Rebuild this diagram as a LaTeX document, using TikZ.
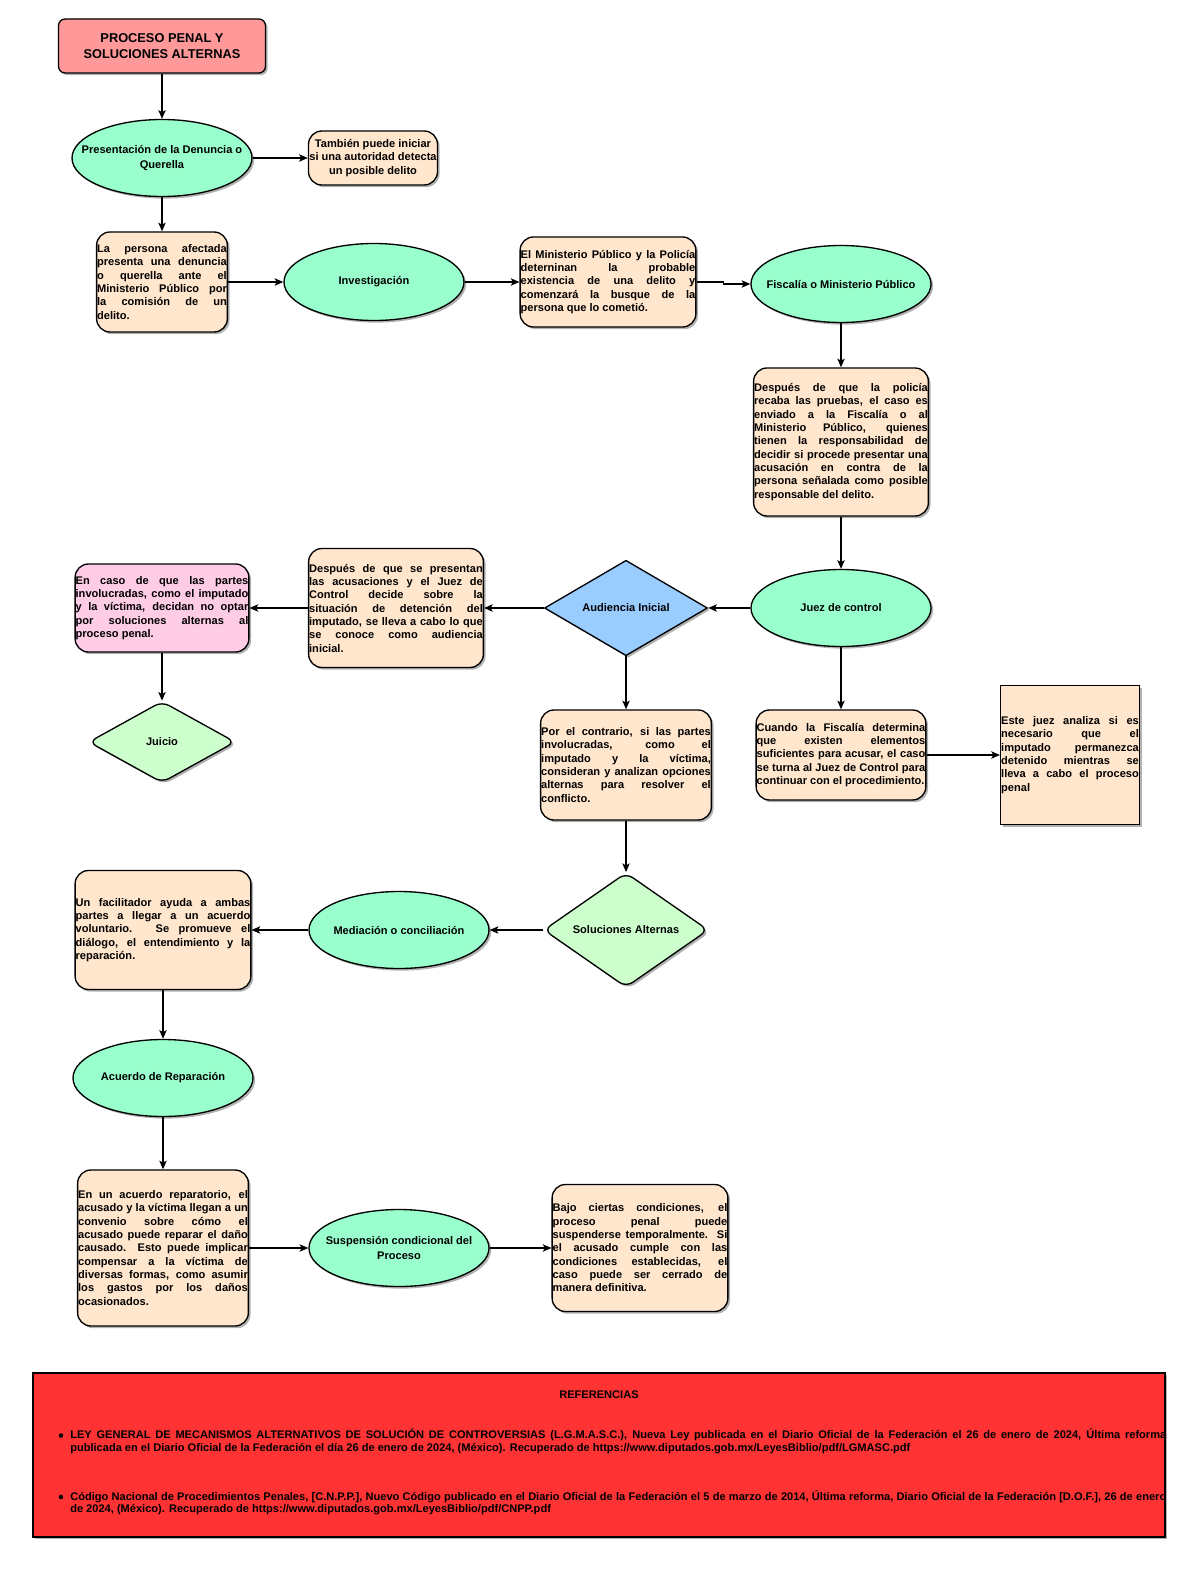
\documentclass[tikz,border=0pt]{standalone}
\usepackage{fontspec}
\setmainfont{Liberation Sans}
\usetikzlibrary{shapes.geometric,arrows.meta,shadows}
\definecolor{peach}{HTML}{FFE6CC}
\definecolor{mint}{HTML}{99FFCC}
\definecolor{titlepink}{HTML}{FF9999}
\definecolor{pinkbox}{HTML}{FFCCE6}
\definecolor{bluedia}{HTML}{99CCFF}
\definecolor{greendia}{HTML}{CCFFCC}
\definecolor{refred}{HTML}{FF3333}
\hyphenpenalty=10000
\exhyphenpenalty=10000
\tolerance=9999
\begin{document}
\begin{tikzpicture}[x=0.75pt,y=-0.75pt,
  shad/.style={drop shadow={shadow xshift=1.6pt,shadow yshift=-1.6pt,fill=black,opacity=0.3}},
  basenode/.style={draw=black,line width=1pt,shad,font=\bfseries\fontsize{8.3}{10}\selectfont},
  titlebox/.style={basenode,rounded corners=5pt,fill=titlepink,minimum width=155.25pt,minimum height=40.5pt,align=center,inner sep=0pt,font=\bfseries\fontsize{9.6}{12}\selectfont},
  tbox/.style={basenode,rounded corners=10pt,fill=peach,align=justify,inner sep=0.4pt},
  ell/.style={basenode,ellipse,fill=mint,minimum width=135pt,minimum height=57.75pt,inner sep=0pt},
  lbl/.style={align=center,inner sep=0pt,font=\bfseries\fontsize{8.3}{11}\selectfont},
  dia/.style={basenode,diamond,align=center,inner sep=0pt},
  conn/.style={line width=1pt,-{Stealth[length=6.5pt,width=5.5pt,inset=1.5pt]}},
  reftext/.style={inner sep=0pt,align=justify,text width=822pt,font=\bfseries\fontsize{8.3}{9.4}\selectfont}
]
\fill[white] (0,0) rectangle (1200,1570);
\useasboundingbox (0,0) rectangle (1200,1570);

% nodes
\node[titlebox] (title) at (162,46) {PROCESO PENAL Y\\SOLUCIONES ALTERNAS};
\node[ell,label={[lbl]center:Presentación de la Denuncia o\\Querella}] (pres) at (162,158) {};
\node[tbox,align=center,minimum width=96.75pt,minimum height=40.5pt] (tambien) at (373,158) {También puede iniciar\\si una autoridad detecta\\un posible delito};
\node[tbox,text width=97.25pt,minimum height=75pt] (persona) at (162,282) {La persona afectada\linebreak presenta una denuncia\linebreak o querella ante el\linebreak Ministerio Público por\linebreak la comisión de un\linebreak delito.};
\node[ell,label={[lbl]center:Investigación}] (investig) at (374,282) {};
\node[tbox,text width=131pt,minimum height=67.5pt] (ministerio) at (608,282) {El Ministerio Público y la Policía\linebreak deterninan la probable\linebreak existencia de una delito y\linebreak comenzará la busque de la\linebreak persona que lo cometió.};
\node[ell,label={[lbl]center:Fiscalía o Ministerio Público}] (fiscalia) at (841,284) {};
\node[tbox,text width=130.25pt,minimum height=111pt] (policia) at (841,442) {Después de que la policía\linebreak recaba las pruebas, el caso es\linebreak enviado a la Fiscalía o al\linebreak Ministerio Público, quienes\linebreak tienen la responsabilidad de\linebreak decidir si procede presentar una\linebreak acusación en contra de la\linebreak persona señalada como posible\linebreak responsable del delito.};
\node[ell,label={[lbl]center:Juez de control}] (juez) at (841,608) {};
\node[dia,fill=bluedia,minimum width=122.25pt,minimum height=69pt] (audiencia) at (626,608) {Audiencia Inicial};
\node[tbox,text width=130.25pt,minimum height=89.25pt] (presentan) at (396,608) {Después de que se presentan\linebreak las acusaciones y el Juez de\linebreak Control decide sobre la\linebreak situación de detención del\linebreak imputado, se lleva a cabo lo que\linebreak se conoce como audiencia\linebreak inicial.};
\node[tbox,fill=pinkbox,text width=129.5pt,minimum height=66pt] (encaso) at (162,608) {En caso de que las partes\linebreak involucradas, como el imputado\linebreak y la víctima, decidan no optar\linebreak por soluciones alternas al\linebreak proceso penal.};
\node[dia,fill=greendia,rounded corners=6pt,minimum width=110pt,minimum height=61pt] (juicio) at (162,742) {Juicio};
\node[tbox,text width=127.25pt,minimum height=82.5pt] (contrario) at (626,765) {Por el contrario, si las partes\linebreak involucradas, como el\linebreak imputado y la víctima,\linebreak consideran y analizan opciones\linebreak alternas para resolver el\linebreak conflicto.};
\node[tbox,text width=126.5pt,minimum height=67.5pt] (cuando) at (841,755) {Cuando la Fiscalía determina\linebreak que existen elementos\linebreak suficientes para acusar, el caso\linebreak se turna al Juez de Control para\linebreak continuar con el procedimiento.};
\node[basenode,fill=peach,align=justify,inner sep=0.4pt,text width=103.25pt,minimum height=104.25pt] (estejuez) at (1070,755) {Este juez analiza si es\linebreak necesario que el\linebreak imputado permanezca\linebreak detenido mientras se\linebreak lleva a cabo el proceso\linebreak penal};
\node[dia,fill=greendia,rounded corners=6pt,minimum width=123.5pt,minimum height=82pt] (soluciones) at (626,930) {Soluciones Alternas};
\node[ell,label={[lbl]center:Mediación o conciliación}] (mediacion) at (399,930) {};
\node[tbox,text width=131pt,minimum height=89.25pt] (facilitador) at (163,930) {Un facilitador ayuda a ambas\linebreak partes a llegar a un acuerdo\linebreak voluntario. Se promueve el\linebreak diálogo, el entendimiento y la\linebreak reparación.};
\node[ell,label={[lbl]center:Acuerdo de Reparación}] (acuerdo) at (163,1078) {};
\node[tbox,text width=127.25pt,minimum height=117pt] (enacuerdo) at (163,1248) {En un acuerdo reparatorio, el\linebreak acusado y la víctima llegan a un\linebreak convenio sobre cómo el\linebreak acusado puede reparar el daño\linebreak causado. Esto puede implicar\linebreak compensar a la víctima de\linebreak diversas formas, como asumir\linebreak los gastos por los daños\linebreak ocasionados.};
\node[ell,label={[lbl]center:Suspensión condicional del\\Proceso}] (suspension) at (399,1248) {};
\node[tbox,text width=131pt,minimum height=95.25pt] (bajo) at (640,1248) {Bajo ciertas condiciones, el\linebreak proceso penal puede\linebreak suspenderse temporalmente. Si\linebreak el acusado cumple con las\linebreak condiciones establecidas, el\linebreak caso puede ser cerrado de\linebreak manera definitiva.};

% references
\node[draw=black,line width=1pt,fill=refred,shad,minimum width=849pt,minimum height=123pt,inner sep=0pt] (refs) at (599,1455) {};
\node[inner sep=0pt,font=\bfseries\fontsize{8.3}{10}\selectfont] (reftitle) at (599,1395) {REFERENCIAS};
\node[reftext,anchor=base west] (ref1) at (70,1438.5) {LEY GENERAL DE MECANISMOS ALTERNATIVOS DE SOLUCIÓN DE CONTROVERSIAS (L.G.M.A.S.C.), Nueva Ley publicada en el Diario Oficial de la Federación el 26 de enero de 2024, Última reforma\linebreak publicada en el Diario Oficial de la Federación el día 26 de enero de 2024, (México). Recuperado de https://www.diputados.gob.mx/LeyesBiblio/pdf/LGMASC.pdf};
\node[reftext,anchor=base west] (ref2) at (70,1500) {Código Nacional de Procedimientos Penales, [C.N.P.P.], Nuevo Código publicado en el Diario Oficial de la Federación el 5 de marzo de 2014, Última reforma, Diario Oficial de la Federación [D.O.F.], 26 de enero\linebreak de 2024, (México). Recuperado de https://www.diputados.gob.mx/LeyesBiblio/pdf/CNPP.pdf};
\fill (61,1435.5) circle[radius=1.7pt];
\fill (61,1497) circle[radius=1.7pt];

% connectors
\draw[conn] (title.south) -- (pres.north);
\draw[conn] (pres.east) -- (tambien.west);
\draw[conn] (pres.south) -- (persona.north);
\draw[conn] (persona.east) -- (investig.west);
\draw[conn] (investig.east) -- (ministerio.west);
\draw[conn] (ministerio.east) -- ++(27,0) |- (fiscalia.west);
\draw[conn] (fiscalia.south) -- (policia.north);
\draw[conn] (policia.south) -- (juez.north);
\draw[conn] (juez.west) -- (audiencia.east);
\draw[conn] (audiencia.west) -- (presentan.east);
\draw[conn] (presentan.west) -- (encaso.east);
\draw[conn] (encaso.south) -- (juicio.north);
\draw[conn] (audiencia.south) -- (contrario.north);
\draw[conn] (juez.south) -- (cuando.north);
\draw[conn] (cuando.east) -- (estejuez.west);
\draw[conn] (contrario.south) -- (soluciones.north);
\draw[conn] (soluciones.west) -- (mediacion.east);
\draw[conn] (mediacion.west) -- (facilitador.east);
\draw[conn] (facilitador.south) -- (acuerdo.north);
\draw[conn] (acuerdo.south) -- (enacuerdo.north);
\draw[conn] (enacuerdo.east) -- (suspension.west);
\draw[conn] (suspension.east) -- (bajo.west);
\end{tikzpicture}
\end{document}
